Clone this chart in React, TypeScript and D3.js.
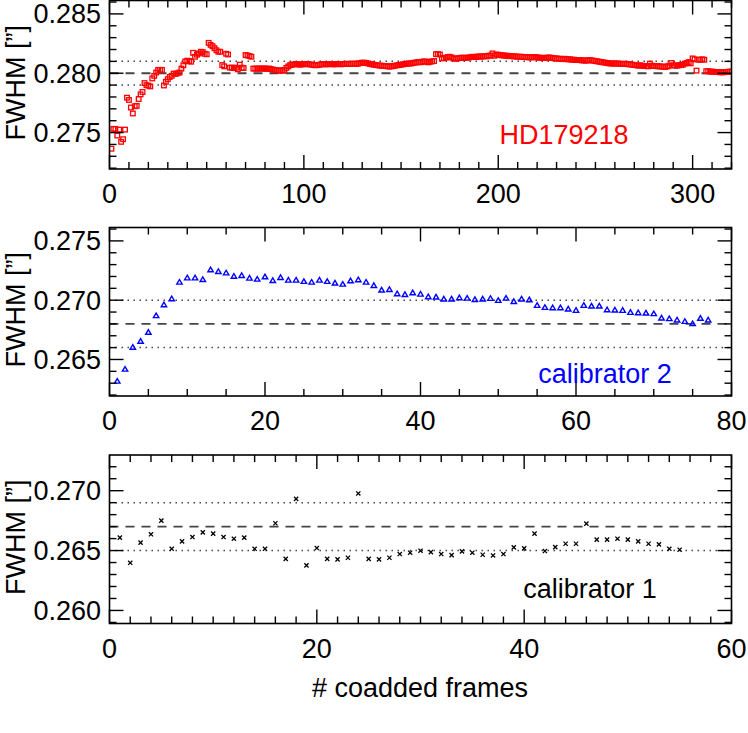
import React from "react";
import * as d3 from "d3";

// ---------- data ----------
const hdValues = [
  0.27364, 0.27531, 0.27531, 0.27475, 0.27525, 0.27422, 0.27444, 0.27525, 0.27794, 0.27775,
  0.27711, 0.27661, 0.27722, 0.27725, 0.27783, 0.27822, 0.27842, 0.27917, 0.279, 0.27895,
  0.27889, 0.27956, 0.27978, 0.28006, 0.28028, 0.28028, 0.28028, 0.27897, 0.27928, 0.2795,
  0.27969, 0.27978, 0.27997, 0.27995, 0.28, 0.28006, 0.28039, 0.28067, 0.281, 0.28106,
  0.28103, 0.28097, 0.28172, 0.28139, 0.28156, 0.28167, 0.28181, 0.28178, 0.28164, 0.2816,
  0.28256, 0.28239, 0.28228, 0.28211, 0.28194, 0.28181, 0.28181, 0.28069, 0.28058, 0.28164,
  0.28158, 0.28047, 0.28047, 0.28044, 0.28047, 0.28033, 0.28072, 0.28047, 0.28044, 0.28153,
  0.2815, 0.28145, 0.28139, 0.28039, 0.28039, 0.28039, 0.2804, 0.28038, 0.28041, 0.28039,
  0.28037, 0.2804, 0.28036, 0.28031, 0.28028, 0.28025, 0.28022, 0.28025, 0.2802, 0.28028,
  0.28045, 0.28058, 0.28069, 0.28072, 0.28075, 0.28078, 0.28075, 0.28072, 0.28075, 0.28078,
  0.28075, 0.28078, 0.28075, 0.28072, 0.28069, 0.28067, 0.28069, 0.28072, 0.28075, 0.28078,
  0.28075, 0.28075, 0.28078, 0.28078, 0.28075, 0.28075, 0.28078, 0.28078, 0.28075, 0.28078,
  0.28078, 0.28081, 0.28078, 0.28078, 0.28081, 0.28081, 0.28078, 0.28081, 0.28086, 0.28089,
  0.28089, 0.28086, 0.28083, 0.28078, 0.28075, 0.28072, 0.28069, 0.28067, 0.28064, 0.28064,
  0.28061, 0.28061, 0.28058, 0.28056, 0.28058, 0.28061, 0.28064, 0.28067, 0.28069, 0.28072,
  0.28075, 0.28078, 0.28081, 0.28083, 0.28081, 0.28086, 0.28089, 0.28092, 0.28094, 0.28092,
  0.28097, 0.281, 0.28097, 0.28092, 0.28097, 0.281, 0.28103, 0.28161, 0.28161, 0.28158,
  0.28125, 0.28128, 0.28131, 0.28136, 0.28139, 0.28133, 0.28125, 0.28122, 0.28125, 0.28128,
  0.28131, 0.28131, 0.28128, 0.28131, 0.28133, 0.28136, 0.28139, 0.28136, 0.28139, 0.28142,
  0.28139, 0.28142, 0.28144, 0.28142, 0.28147, 0.2815, 0.28167, 0.28147, 0.28158, 0.28156,
  0.28153, 0.2815, 0.2815, 0.28147, 0.28147, 0.28144, 0.28144, 0.28142, 0.28142, 0.28139,
  0.28139, 0.28139, 0.28136, 0.28136, 0.28136, 0.28133, 0.28133, 0.28136, 0.28136, 0.28133,
  0.28131, 0.28131, 0.28128, 0.28128, 0.28131, 0.28133, 0.28131, 0.28128, 0.28125, 0.28125,
  0.28122, 0.28122, 0.28119, 0.28122, 0.28119, 0.28117, 0.28117, 0.28114, 0.28114, 0.28111,
  0.28111, 0.28111, 0.28108, 0.28108, 0.28106, 0.28108, 0.28111, 0.28108, 0.28106, 0.28103,
  0.281, 0.28097, 0.28094, 0.28092, 0.28089, 0.28086, 0.28083, 0.28083, 0.28081, 0.28081,
  0.28083, 0.28081, 0.28078, 0.28078, 0.28081, 0.28078, 0.28075, 0.28075, 0.28072, 0.28069,
  0.28067, 0.28064, 0.28067, 0.28064, 0.28061, 0.28061, 0.28058, 0.28081, 0.28064, 0.28061,
  0.28061, 0.28058, 0.28058, 0.28056, 0.28056, 0.28053, 0.28058, 0.28064, 0.28086, 0.28067,
  0.28064, 0.28064, 0.28067, 0.28069, 0.28072, 0.28081, 0.28086, 0.28094, 0.28083, 0.28125,
  0.28117, 0.28022, 0.28114, 0.28114, 0.28117, 0.28114, 0.28017, 0.28017, 0.28014, 0.28014,
  0.28011, 0.28011, 0.28011, 0.28008, 0.28008, 0.28008, 0.28011, 0.28011, 0.28014, 0.28014,
];

const cal2Values = [
  0.26318, 0.26419, 0.26604, 0.26654, 0.2673, 0.2687, 0.26962, 0.27013, 0.27153, 0.27189,
  0.27189, 0.27175, 0.27257, 0.27243, 0.27231, 0.27203, 0.27209, 0.27187, 0.27178, 0.27198,
  0.27167, 0.27192, 0.2717, 0.2717, 0.27159, 0.27153, 0.2717, 0.27159, 0.27145, 0.27136,
  0.27164, 0.27173, 0.27153, 0.27125, 0.27086, 0.27091, 0.27055, 0.27049, 0.27063, 0.27052,
  0.2703, 0.27027, 0.2701, 0.2701, 0.27021, 0.27018, 0.27007, 0.2701, 0.27016, 0.26999,
  0.27018, 0.2699, 0.2701, 0.27004, 0.26957, 0.2694, 0.26937, 0.26937, 0.26926, 0.26915,
  0.26957, 0.26951, 0.26951, 0.2692, 0.26918, 0.26915, 0.26898, 0.26895, 0.26892, 0.26887,
  0.2685, 0.26845, 0.26834, 0.26822, 0.26803, 0.26848, 0.26834,
];

const cal1Values = [
  0.26608, 0.26398, 0.26566, 0.26636, 0.2675, 0.26515, 0.26577, 0.26613, 0.26652, 0.26641,
  0.26613, 0.26599, 0.26608, 0.26515, 0.26515, 0.26728, 0.26431, 0.26932, 0.26376, 0.26521,
  0.26431, 0.26426, 0.2644, 0.26977, 0.26431, 0.26426, 0.2644, 0.26471, 0.26482, 0.26499,
  0.26487, 0.26471, 0.26462, 0.26493, 0.26482, 0.26465, 0.26459, 0.26471, 0.26527, 0.26518,
  0.26641, 0.26496, 0.26529, 0.26557, 0.26557, 0.26725, 0.26591, 0.26591, 0.26599, 0.26591,
  0.26577, 0.26557, 0.26552, 0.26515, 0.26507,
];

const panelNames = ["HD179218", "calibrator 2", "calibrator 1"];
const panelColors = ["#ff0000", "#0000ff", "#000000"];
const panelMarkers = ["square", "triangle", "cross"];
const xDomains = [[0, 320], [0, 80], [0, 60]];
const xMajorTicks = [[0, 100, 200, 300], [0, 20, 40, 60, 80], [0, 20, 40, 60]];
const xMinorSteps = [10, 5, 2];
const yDomains = [[0.27193, 0.28613], [0.26192, 0.27613], [0.25891, 0.27298]];
const yMajorTicks = [[0.275, 0.28, 0.285], [0.265, 0.27, 0.275], [0.26, 0.265, 0.27]];
const yMinorStep = 0.001;
const refMeans = [0.28, 0.268, 0.267];
const refBands = [0.001, 0.002, 0.002];
const yTitle = "FWHM [\u201D]";
const xTitle = "# coadded frames";

// ---------- layout ----------
const W = 748;
const H = 733;
const left = 109.5;
const right = 731.5;
const panelTops = [0.5, 227.5, 455];
const panelH = 168.5;
const FONT = "'Liberation Sans', Arial, Helvetica, sans-serif";
const FS = 27;
const labelPos = [
  { x: 564, y: 144 },
  { x: 605, y: 383 },
  { x: 590, y: 598 },
];

function Marker({ type, x, y, color }: { type: string; x: number; y: number; color: string }) {
  if (type === "square") {
    const s = 2.3;
    return <rect x={x - s} y={y - s} width={2 * s} height={2 * s} fill="none" stroke={color} strokeWidth={1.3} />;
  }
  if (type === "triangle") {
    const w = 2.7;
    const h = 4.6;
    const pts = `${x},${y - h * 0.55} ${x - w},${y + h * 0.45} ${x + w},${y + h * 0.45}`;
    return <polygon points={pts} fill="none" stroke={color} strokeWidth={1.4} />;
  }
  const s = 2.1;
  return (
    <path
      d={`M${x - s},${y - s}L${x + s},${y + s}M${x - s},${y + s}L${x + s},${y - s}`}
      stroke={color}
      strokeWidth={1.3}
      fill="none"
    />
  );
}

function Panel({ i }: { i: number }) {
  const top = panelTops[i];
  const bottom = top + panelH;
  const values = [hdValues, cal2Values, cal1Values][i];
  const x = d3.scaleLinear().domain(xDomains[i]).range([left, right]);
  const y = d3.scaleLinear().domain(yDomains[i]).range([bottom, top]);
  const [x0, x1] = xDomains[i];
  const xMinor = d3.range(x0, x1 + 1e-9, xMinorSteps[i]).filter((v) => !xMajorTicks[i].includes(v));
  const [y0, y1] = yDomains[i];
  const yMinor = d3
    .range(Math.ceil(y0 / yMinorStep - 1e-6), Math.floor(y1 / yMinorStep + 1e-6) + 1)
    .map((k) => k * yMinorStep)
    .filter((v) => !yMajorTicks[i].some((m) => Math.abs(m - v) < 1e-7));
  const major = 14;
  const minor = 7;
  const clipId = `clip${i}`;
  const color = panelColors[i];
  const mean = refMeans[i];
  const band = refBands[i];
  return (
    <g>
      <defs>
        <clipPath id={clipId}>
          <rect x={left} y={top} width={right - left} height={panelH} />
        </clipPath>
      </defs>
      {/* reference lines */}
      <line x1={left} x2={right} y1={y(mean)} y2={y(mean)} stroke="#444" strokeWidth={1.8} strokeDasharray="9,7" />
      <line x1={left} x2={right} y1={y(mean + band)} y2={y(mean + band)} stroke="#444" strokeWidth={1.5} strokeDasharray="1.5,4.5" />
      <line x1={left} x2={right} y1={y(mean - band)} y2={y(mean - band)} stroke="#444" strokeWidth={1.5} strokeDasharray="1.5,4.5" />
      {/* data */}
      <g clipPath={`url(#${clipId})`}>
        {values.map((v, k) => (
          <Marker key={k} type={panelMarkers[i]} x={x(k + 1)} y={y(v)} color={color} />
        ))}
      </g>
      {/* frame */}
      <rect x={left} y={top} width={right - left} height={panelH} fill="none" stroke="#000" strokeWidth={1.6} />
      {/* x ticks */}
      {xMajorTicks[i].map((t) => (
        <g key={`xM${t}`}>
          <line x1={x(t)} x2={x(t)} y1={bottom} y2={bottom - major} stroke="#000" strokeWidth={1.4} />
          <line x1={x(t)} x2={x(t)} y1={top} y2={top + major} stroke="#000" strokeWidth={1.4} />
          <text x={x(t)} y={bottom + 34} textAnchor="middle" fontFamily={FONT} fontSize={FS} fill="#000">
            {t}
          </text>
        </g>
      ))}
      {xMinor.map((t) => (
        <g key={`xm${t}`}>
          <line x1={x(t)} x2={x(t)} y1={bottom} y2={bottom - minor} stroke="#000" strokeWidth={1.4} />
          <line x1={x(t)} x2={x(t)} y1={top} y2={top + minor} stroke="#000" strokeWidth={1.4} />
        </g>
      ))}
      {/* y ticks */}
      {yMajorTicks[i].map((t) => (
        <g key={`yM${t}`}>
          <line x1={left} x2={left + major} y1={y(t)} y2={y(t)} stroke="#000" strokeWidth={1.4} />
          <line x1={right} x2={right - major} y1={y(t)} y2={y(t)} stroke="#000" strokeWidth={1.4} />
          <text x={101} y={y(t) + 9.5} textAnchor="end" fontFamily={FONT} fontSize={FS} fill="#000">
            {d3.format(".3f")(t)}
          </text>
        </g>
      ))}
      {yMinor.map((t) => (
        <g key={`ym${t}`}>
          <line x1={left} x2={left + minor} y1={y(t)} y2={y(t)} stroke="#000" strokeWidth={1.4} />
          <line x1={right} x2={right - minor} y1={y(t)} y2={y(t)} stroke="#000" strokeWidth={1.4} />
        </g>
      ))}
      {/* y title */}
      <text
        transform={`translate(25,${top + panelH / 2 - 2}) rotate(-90)`}
        textAnchor="middle"
        fontFamily={FONT}
        fontSize={FS}
        fill="#000"
      >
        {yTitle}
      </text>
      {/* panel label */}
      <text x={labelPos[i].x} y={labelPos[i].y} textAnchor="middle" fontFamily={FONT} fontSize={FS} fill={color}>
        {panelNames[i]}
      </text>
    </g>
  );
}

export default function App() {
  return (
    <svg
      width={W}
      height={H}
      viewBox={`0 0 ${W} ${H}`}
      style={{ position: "absolute", left: 0, top: 0, background: "#fff" }}
    >
      <rect x={0} y={0} width={W} height={H} fill="#fff" />
      {[0, 1, 2].map((i) => (
        <Panel key={i} i={i} />
      ))}
      <text x={420} y={697} textAnchor="middle" fontFamily={FONT} fontSize={FS} fill="#000">
        {xTitle}
      </text>
    </svg>
  );
}
